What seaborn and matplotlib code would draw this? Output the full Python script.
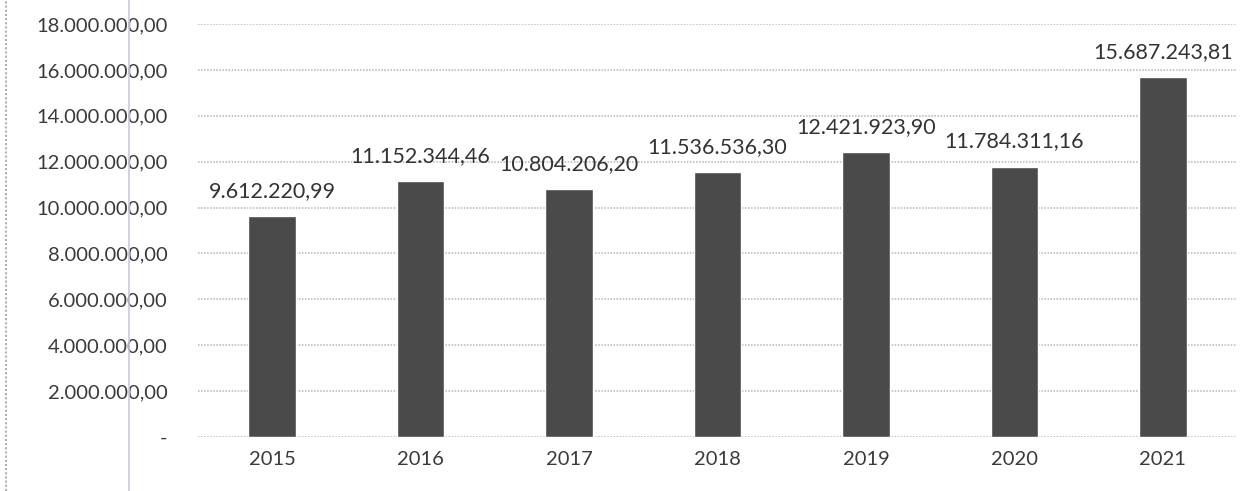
import matplotlib
matplotlib.use("Agg")
import matplotlib.pyplot as plt
import seaborn as sns
import pandas as pd
from matplotlib.lines import Line2D

anos = ["2015", "2016", "2017", "2018", "2019", "2020", "2021"]
valores = [9612220.99, 11152344.46, 10804206.20, 11536536.30,
           12421923.90, 11784311.16, 15687243.81]
rotulos = ["9.612.220,99", "11.152.344,46", "10.804.206,20", "11.536.536,30",
           "12.421.923,90", "11.784.311,16", "15.687.243,81"]
yticks = [0, 2e6, 4e6, 6e6, 8e6, 10e6, 12e6, 14e6, 16e6, 18e6]
ytick_labels = ["-", "2.000.000,00", "4.000.000,00", "6.000.000,00", "8.000.000,00",
                "10.000.000,00", "12.000.000,00", "14.000.000,00", "16.000.000,00",
                "18.000.000,00"]

df = pd.DataFrame({"ano": anos, "valor": valores})

sns.set_style("white")
plt.rcParams["font.family"] = ["Lato", "DejaVu Sans"]

fig = plt.figure(figsize=(12.58, 4.91), dpi=100)
ax = fig.add_axes([198 / 1258, 1 - 437 / 491, (1237 - 198) / 1258, (437 - 24) / 491])

sns.barplot(data=df, x="ano", y="valor", color="#4a4a4a", width=0.32,
            saturation=1, ax=ax, zorder=3)

ax.set_ylim(0, 18e6)
ax.set_xlim(-0.5, 6.5)
ax.set_yticks(yticks)
ax.set_yticklabels(ytick_labels)
ax.set_xlabel("")
ax.set_ylabel("")
ax.tick_params(axis="y", length=0, pad=22, labelsize=14.5, labelcolor="#3a3a3a")
ax.tick_params(axis="x", length=0, pad=10, labelsize=14.5, labelcolor="#3a3a3a")
ax.grid(axis="y", color="#b5b5b5", linestyle=(0, (1, 1)), linewidth=1.1, zorder=0)
for s in ax.spines.values():
    s.set_visible(False)

for i, (v, t) in enumerate(zip(valores, rotulos)):
    ax.annotate(t, (i, v), xytext=(0, 11), textcoords="offset points",
                ha="center", va="bottom", fontsize=15.5, color="#333333")

# scan border lines
fig.add_artist(Line2D([129 / 1258, 129 / 1258], [0, 1], color="#c8ccd8", lw=1.2,
                      transform=fig.transFigure))
fig.add_artist(Line2D([6 / 1258, 6 / 1258], [0, 1], color="#b0b0b0", lw=1.5,
                      linestyle=(0, (1, 1)), transform=fig.transFigure))

fig.savefig("out.png", dpi=100, facecolor="white")
